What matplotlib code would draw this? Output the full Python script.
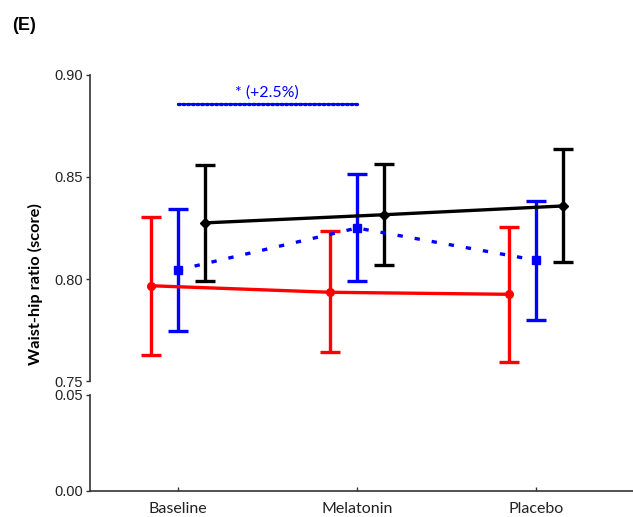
import matplotlib.pyplot as plt

groups = ['Baseline', 'Melatonin', 'Placebo']

# mean and lower/upper error limits for each arm
red_mean = [0.7967, 0.7935, 0.7925]
red_lo = [0.7627, 0.7642, 0.7592]
red_hi = [0.8305, 0.8235, 0.8253]

blue_mean = [0.8044, 0.8250, 0.8092]
blue_lo = [0.7743, 0.7990, 0.7799]
blue_hi = [0.8343, 0.8515, 0.8384]

black_mean = [0.8275, 0.8315, 0.8358]
black_lo = [0.7992, 0.8068, 0.8083]
black_hi = [0.8560, 0.8565, 0.8637]

sig_y = 0.8858
sig_text = '* (+2.5%)'

fig = plt.figure(figsize=(6.33, 5.17), dpi=100)
ax = fig.add_axes([0.142, 0.263, 0.858, 0.592])
ax2 = fig.add_axes([0.142, 0.0503, 0.858, 0.1857])

x = list(range(len(groups)))
off = 0.15


def draw(a, xs, mean, lo, hi, color, marker, ls, ms, dashes=None):
    err = [[m - l for m, l in zip(mean, lo)], [h - m for m, h in zip(mean, hi)]]
    a.errorbar(xs, mean, yerr=err, fmt='none', ecolor=color, elinewidth=2.4,
               capsize=7, capthick=2.4, zorder=3)
    line, = a.plot(xs, mean, color=color, lw=2.4, ls=ls, marker=marker,
                   ms=ms, zorder=4)
    if dashes:
        line.set_dashes(dashes)


for a in (ax, ax2):
    draw(a, [i - off for i in x], red_mean, red_lo, red_hi, '#ff0000', 'o', '-', 5.5)
    draw(a, x, blue_mean, blue_lo, blue_hi, '#0000ff', 's', '--', 5.5, (1.6, 3.6))
    draw(a, [i + off for i in x], black_mean, black_lo, black_hi, 'black', 'D', '-', 4.8)

# significance bar between baseline and melatonin
ax.plot([0, 1], [sig_y, sig_y], color='#0000ff', lw=1.2, zorder=5)
ax.plot([0, 1], [sig_y, sig_y], color='#0000ff', lw=2.4, ls=(0, (0.5, 0.9)),
        dash_capstyle='round', zorder=5)
ax.text(0.5, sig_y + 0.0022, sig_text, color='#0000ff', ha='center', va='bottom',
        fontsize=11.5, family='Lato')

for a in (ax, ax2):
    a.set_xlim(-0.49, 2.54)
    a.spines['top'].set_visible(False)
    a.spines['right'].set_visible(False)
    a.spines['left'].set_color('#333333')
    a.spines['left'].set_linewidth(1.2)
    a.tick_params(axis='y', direction='out', length=3, width=1, colors='#333333',
                  labelsize=10.5, labelcolor='#222222', pad=2)

ax.set_ylim(0.75, 0.90)
ax.set_yticks([0.75, 0.80, 0.85, 0.90])
ax.set_yticklabels(['0.75', '0.80', '0.85', '0.90'], family='Liberation Sans')
ax.spines['bottom'].set_visible(False)
ax.set_xticks([])

ax2.set_ylim(0, 0.05)
ax2.set_yticks([0.00, 0.05])
ax2.set_yticklabels(['0.00', '0.05'], family='Liberation Sans')
ax2.spines['bottom'].set_color('#333333')
ax2.spines['bottom'].set_linewidth(1.2)
ax2.set_xticks(x)
ax2.set_xticklabels(groups, family='Lato', fontsize=11.5, color='#222222')
ax2.tick_params(axis='x', direction='in', length=3, width=1, colors='#333333',
                labelcolor='#222222', pad=8)

fig.text(35 / 633, 1 - 284 / 517, 'Waist-hip ratio (score)', rotation=90,
         ha='center', va='center', fontsize=11.8, fontweight='bold', family='Lato')
fig.text(12 / 633, 1 - 25 / 517, '(E)', ha='left', va='center', fontsize=13,
         fontweight='bold', family='Liberation Sans')

fig.savefig('out.png', dpi=100)
